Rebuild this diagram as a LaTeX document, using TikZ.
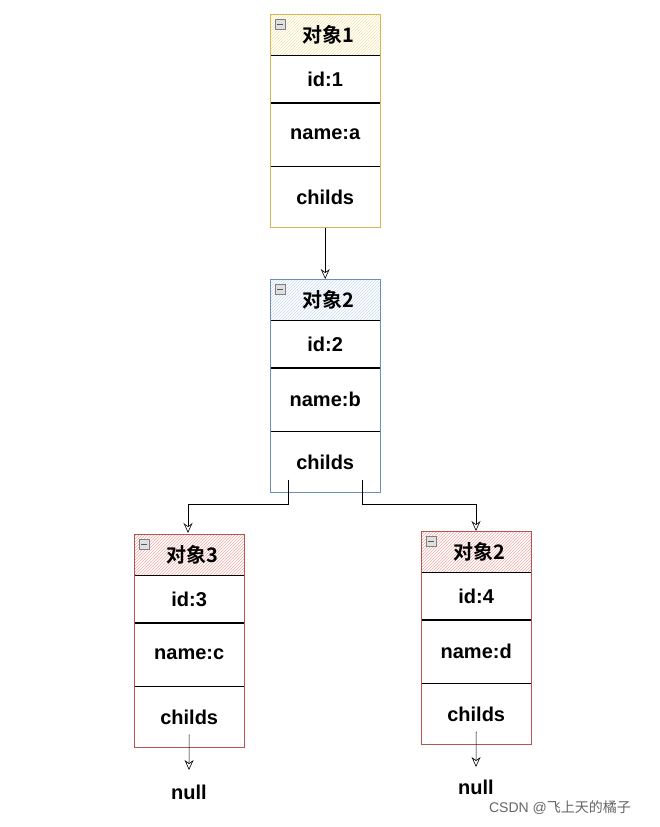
\documentclass[tikz,border=0pt]{standalone}
\usepackage{fontspec}
\setmainfont{Liberation Sans}
\newfontfamily\cjk{Noto Sans CJK SC}[BoldFont={Noto Sans CJK SC Bold}]
\usetikzlibrary{positioning,patterns,arrows.meta}
\definecolor{goldline}{HTML}{D6B656}
\definecolor{goldfill}{HTML}{F5E3A8}
\definecolor{blueline}{HTML}{6C8EBF}
\definecolor{bluefill}{HTML}{C5D8F2}
\definecolor{redline}{HTML}{B85450}
\definecolor{redfill}{HTML}{EFAAA6}
\tikzset{
  field/.style={draw=black, minimum width=110pt, inner sep=0pt, font=\bfseries\fontsize{20}{24}\selectfont},
  header/.style={draw, minimum width=110pt, minimum height=41pt, inner sep=0pt, font=\cjk\bfseries\fontsize{20}{24}\selectfont},
  link/.style={-{Stealth[open,length=10pt,width=9pt]}, semithick},
  minus/.style={draw=gray, fill=gray!25, minimum width=10pt, minimum height=10pt, inner sep=0pt}
}
% one object box: #1 name, #2 x, #3 y top, #4 line colour, #5 fill colour, #6 title, #7 id, #8 name
\newcommand{\objbox}[8]{
  \node[header, draw=#4, pattern=north east lines, pattern color=#5, anchor=north west] (#1h) at (#2,#3) {\hspace{6pt}#6};
  \node[minus, anchor=north west] (#1m) at ([shift={(5pt,-5pt)}]#1h.north west) {};
  \draw[gray!70!black, line width=1pt] ([xshift=2pt]#1m.west) -- ([xshift=-2pt]#1m.east);
  \node[field, minimum height=47pt, below=0pt of #1h] (#1i) {#7};
  \node[field, minimum height=63pt, below=0pt of #1i] (#1n) {#8};
  \node[field, minimum height=61pt, below=0pt of #1n] (#1c) {childs};
  \draw[#4, thick] (#1h.north west) rectangle (#1c.south east);
}
\begin{document}
\begin{tikzpicture}[x=1pt,y=1pt]
  \useasboundingbox (0,0) rectangle (659,-827);

  % the four objects
  \objbox{a}{270}{-14}{goldline}{goldfill}{对象1}{id:1}{name:a}
  \objbox{b}{270}{-279}{blueline}{bluefill}{对象2}{id:2}{name:b}
  \objbox{c}{134}{-534}{redline}{redfill}{对象3}{id:3}{name:c}
  \objbox{d}{421}{-531}{redline}{redfill}{对象2}{id:4}{name:d}

  % null ends
  \node[font=\bfseries\fontsize{20}{24}\selectfont] (nullc) at (189,-792) {null};
  \node[font=\bfseries\fontsize{20}{24}\selectfont] (nulld) at (476,-787) {null};

  % connectors
  \draw[link] (ac.south) -- (bh.north);
  \draw[link] ([xshift=-37pt,yshift=13pt]bc.south) |- (188,-504) -- (188,-533);
  \draw[link] ([xshift=37pt,yshift=13pt]bc.south) |- (476,-504) -- (dh.north -| 476,0);
  \draw[link] ([yshift=13pt]cc.south) -- (189,-770);
  \draw[link] ([yshift=13pt]dc.south) -- (476,-767);

  \node[gray!80!black, font=\fontsize{14}{16}\selectfont] (mark) at (560,-808) {CSDN @{\cjk 飞上天的橘子}};
\end{tikzpicture}
\end{document}
